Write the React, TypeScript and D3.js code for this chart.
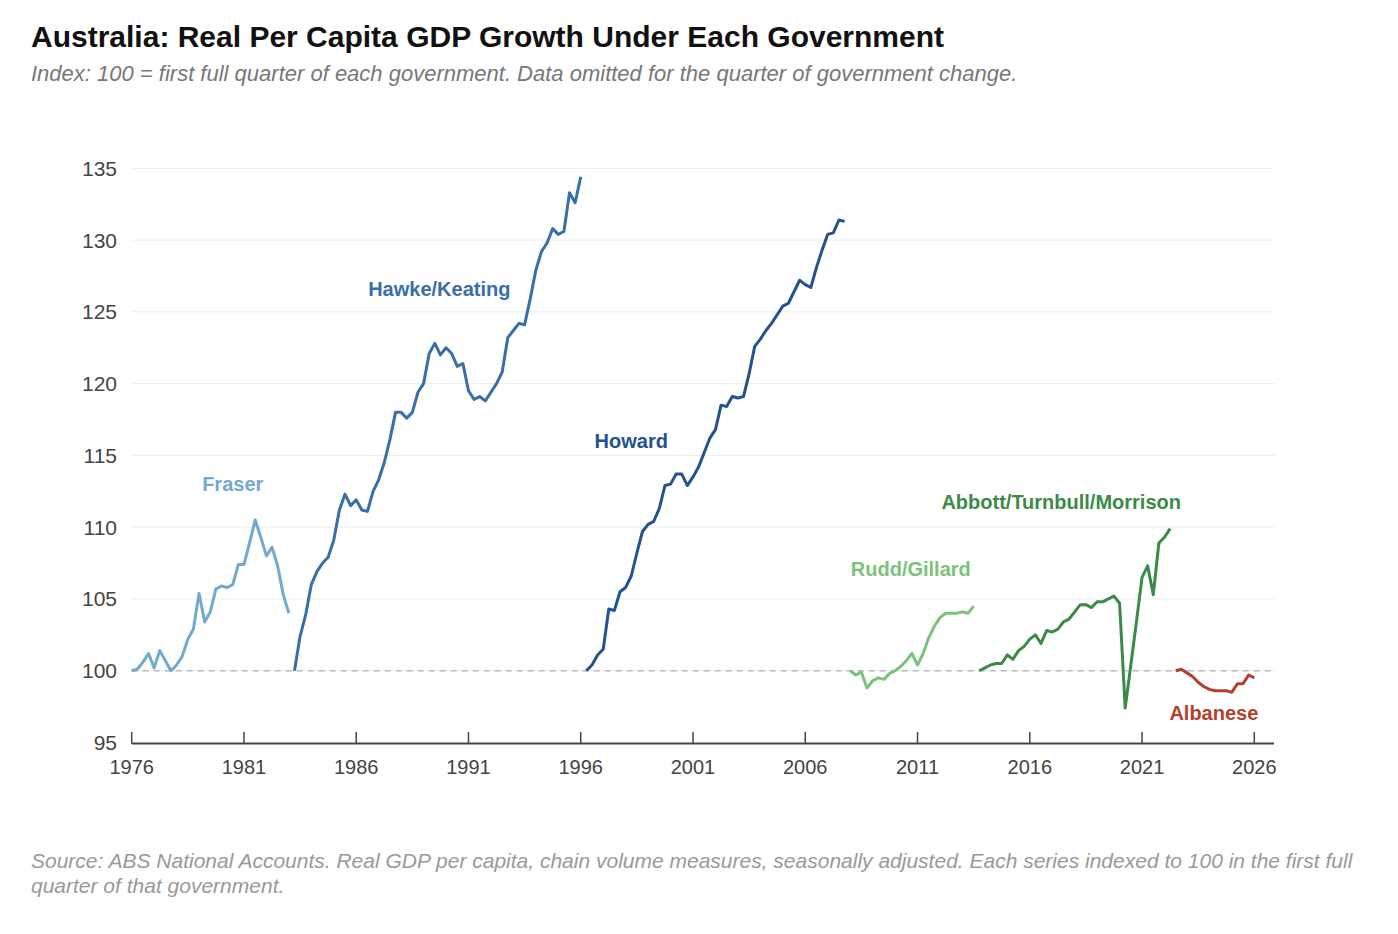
import React from "react";
import * as d3 from "d3";

// quarterly index values, each series starts at its first full quarter
const fraserStart = 1976.0;
const fraser = [
  100.0, 100.1, 100.6, 101.2, 100.2, 101.4, 100.7, 100.0, 100.4, 101.0, 102.2, 102.9,
  105.4, 103.4, 104.1, 105.7, 105.9, 105.8, 106.0, 107.4, 107.4, 108.9, 110.5, 109.3,
  108.0, 108.6, 107.3, 105.3, 104.0,
];

const hawkeStart = 1983.25;
const hawke = [
  100.0, 102.4, 103.9, 106.0, 106.9, 107.5, 107.9, 109.1, 111.2, 112.3, 111.5, 111.9,
  111.2, 111.1, 112.5, 113.3, 114.5, 116.1, 118.0, 118.0, 117.6, 118.0, 119.4, 120.0,
  122.1, 122.8, 122.0, 122.5, 122.1, 121.2, 121.4, 119.5, 118.9, 119.1, 118.8, 119.4,
  120.0, 120.8, 123.2, 123.7, 124.2, 124.1, 125.9, 127.9, 129.2, 129.8, 130.8, 130.4,
  130.6, 133.3, 132.6, 134.4,
];

const howardStart = 1996.25;
const howard = [
  100.0, 100.4, 101.1, 101.5, 104.3, 104.2, 105.5, 105.8, 106.6, 108.2, 109.7, 110.2,
  110.4, 111.3, 112.9, 113.0, 113.7, 113.7, 112.9, 113.5, 114.2, 115.2, 116.2, 116.8,
  118.5, 118.4, 119.1, 119.0, 119.1, 120.7, 122.6, 123.1, 123.7, 124.2, 124.8, 125.4,
  125.6, 126.4, 127.2, 126.9, 126.7, 128.1, 129.3, 130.4, 130.5, 131.4, 131.3,
];

const ruddStart = 2008.0;
const rudd = [
  100.0, 99.7, 99.9, 98.8, 99.3, 99.5, 99.4, 99.8, 100.0, 100.3, 100.7, 101.2,
  100.4, 101.2, 102.3, 103.1, 103.7, 104.0, 104.0, 104.0, 104.1, 104.0, 104.5,
];

const abbottStart = 2013.75;
const abbott = [
  100.0, 100.2, 100.4, 100.5, 100.5, 101.1, 100.8, 101.4, 101.7, 102.2, 102.5, 101.9,
  102.8, 102.7, 102.9, 103.4, 103.6, 104.1, 104.6, 104.6, 104.4, 104.8, 104.8, 105.0,
  105.2, 104.7, 97.4, 100.4, 103.4, 106.5, 107.3, 105.3, 108.9, 109.3, 109.9,
];

const albaneseStart = 2022.5;
const albanese = [
  100.0, 100.1, 99.85, 99.6, 99.2, 98.9, 98.7, 98.6, 98.6, 98.6, 98.5, 99.1, 99.1, 99.7, 99.5,
];

const governments = ["Fraser", "Hawke/Keating", "Howard", "Rudd/Gillard", "Abbott/Turnbull/Morrison", "Albanese"];
const starts = [fraserStart, hawkeStart, howardStart, ruddStart, abbottStart, albaneseStart];
const seriesValues = [fraser, hawke, howard, rudd, abbott, albanese];
const colors = ["#74a9cf", "#3a6ea8", "#24528f", "#7cc27c", "#3b8a48", "#b23f30"];
// label anchor in data space (year, index) - text baseline
const labelYears = [1980.5, 1989.7, 1998.25, 2010.7, 2017.4, 2024.2];
const labelValues = [112.5, 126.1, 115.5, 106.6, 111.3, 96.6];

const yTicks = [95, 100, 105, 110, 115, 120, 125, 130, 135];
const xTicks = [1976, 1981, 1986, 1991, 1996, 2001, 2006, 2011, 2016, 2021, 2026];

const W = 1398;
const H = 934;
const FONT = "'Liberation Sans', Arial, Helvetica, sans-serif";

export default function App() {
  const x = d3.scaleLinear().domain([1976, 2026]).range([131.7, 1254.3]);
  const y = d3.scaleLinear().domain([95, 135]).range([742.5, 168.3]);
  const x0 = 131.7;
  const x1 = 1274;

  const line = d3
    .line<[number, number]>()
    .x((d) => x(d[0]))
    .y((d) => y(d[1]));

  return (
    <svg
      width={W}
      height={H}
      style={{ position: "absolute", left: 0, top: 0, background: "#fff" }}
      fontFamily={FONT}
    >
      <rect width={W} height={H} fill="#fff" />
      <text x={31} y={47} fontSize={30} fontWeight="bold" fill="#111">
        Australia: Real Per Capita GDP Growth Under Each Government
      </text>
      <text x={31} y={81} fontSize={22} fontStyle="italic" fill="#777">
        Index: 100 = first full quarter of each government. Data omitted for the quarter of government change.
      </text>

      {yTicks.slice(1).map((t) => (
        <line key={"g" + t} x1={x0} x2={x1} y1={y(t)} y2={y(t)} stroke="#ececec" strokeWidth={1} />
      ))}
      <line x1={x0} x2={x1} y1={y(100)} y2={y(100)} stroke="#bbb" strokeWidth={1.3} strokeDasharray="6,5" />

      {yTicks.map((t) => (
        <text key={"yt" + t} x={117} y={y(t) + 7.5} fontSize={21} textAnchor="end" fill="#444">
          {t}
        </text>
      ))}

      <line x1={x0} x2={x1} y1={743.5} y2={743.5} stroke="#444" strokeWidth={2} />
      {xTicks.map((t) => (
        <g key={"xt" + t}>
          <line x1={x(t)} x2={x(t)} y1={732} y2={743.5} stroke="#444" strokeWidth={1.5} />
          <text x={x(t)} y={774} fontSize={20} textAnchor="middle" fill="#444">
            {t}
          </text>
        </g>
      ))}

      {seriesValues.map((vals, i) => {
        const pts: [number, number][] = vals.map((v, k) => [starts[i] + k * 0.25, v]);
        return (
          <path
            key={governments[i]}
            d={line(pts) || ""}
            fill="none"
            stroke={colors[i]}
            strokeWidth={3}
            strokeLinejoin="round"
          />
        );
      })}

      {governments.map((g, i) => (
        <text
          key={"l" + g}
          x={x(labelYears[i])}
          y={y(labelValues[i])}
          fontSize={20}
          fontWeight="bold"
          textAnchor="middle"
          fill={colors[i]}
        >
          {g}
        </text>
      ))}

      <text fontSize={21} fontStyle="italic" fill="#999">
        <tspan x={31} y={868}>
          Source: ABS National Accounts. Real GDP per capita, chain volume measures, seasonally adjusted. Each series indexed to 100 in the first full
        </tspan>
        <tspan x={31} y={893}>
          quarter of that government.
        </tspan>
      </text>
    </svg>
  );
}
